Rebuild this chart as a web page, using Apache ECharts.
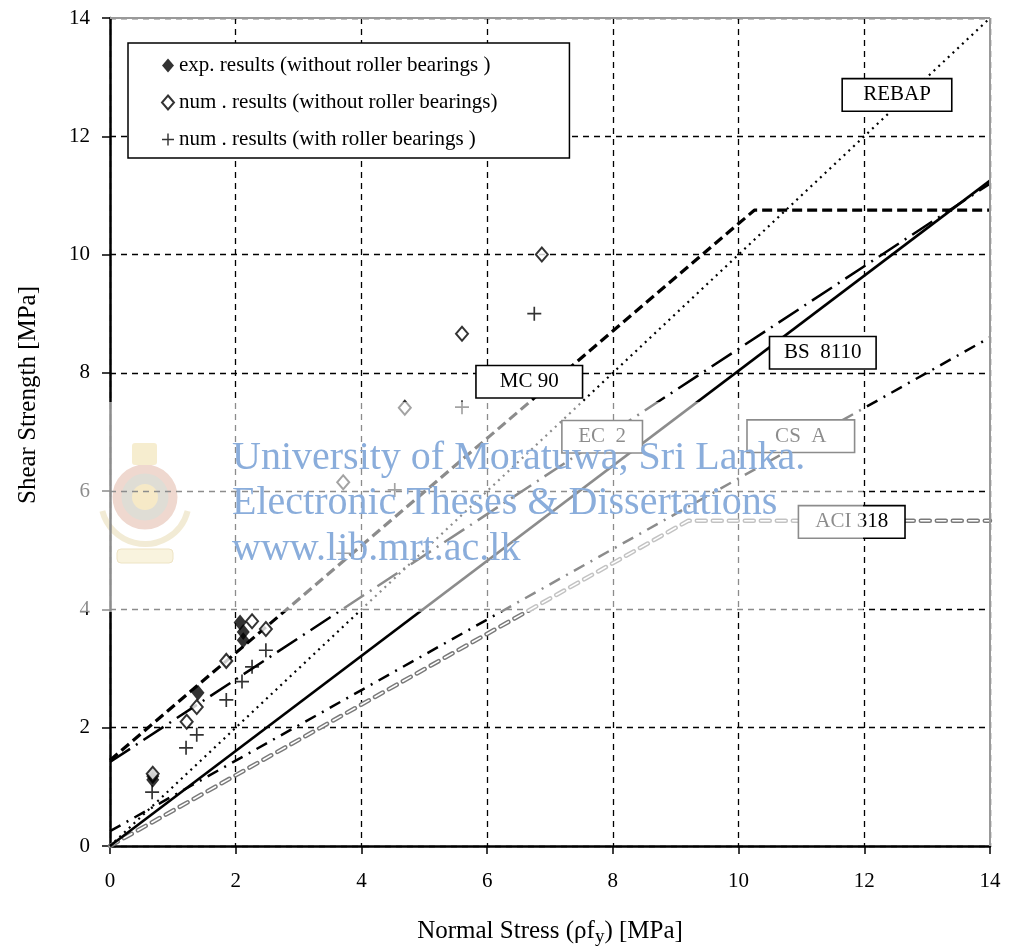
<!DOCTYPE html>
<html><head><meta charset="utf-8">
<script src="https://cdn.jsdelivr.net/npm/echarts@6/dist/echarts.min.js"></script>
<style>html,body{margin:0;padding:0;background:#fff}#c{width:1021px;height:951px}</style>
</head><body><div id="c"></div>
<script>
// ---------- data ----------
const axisTicks = [0, 2, 4, 6, 8, 10, 12, 14];
const legendNames = [
  'exp. results (without roller bearings )',
  'num . results (without roller bearings)',
  'num . results (with roller bearings )'
];
// experimental results (filled diamonds)
const expX = [0.68, 0.68, 1.40, 2.07, 2.12, 2.12];
const expY = [1.18, 1.12, 2.59, 3.78, 3.62, 3.48];
// numerical results without roller bearings (hollow diamonds)
const numWoX = [0.68, 1.22, 1.38, 1.85, 2.26, 2.48, 3.71, 4.69, 5.60, 6.87];
const numWoY = [1.22, 2.10, 2.35, 3.13, 3.80, 3.67, 6.15, 7.41, 8.66, 10.00];
// numerical results with roller bearings (plus)
const numWX = [0.67, 1.21, 1.38, 1.85, 2.10, 2.26, 2.48, 3.71, 4.53, 5.60, 6.75];
const numWY = [0.91, 1.66, 1.88, 2.47, 2.78, 3.03, 3.31, 4.95, 6.02, 7.42, 9.00];
// design code lines
const bsX = [0, 14],            bsY = [0, 11.25];        // BS 8110
const rebapX = [0, 14],         rebapY = [0, 14];        // REBAP
const mc90X = [0, 10.25, 14],   mc90Y = [1.45, 10.75, 10.75]; // MC 90
const ec2X = [0, 14],           ec2Y = [1.42, 11.2];     // EC 2
const csaX = [0, 14],           csaY = [0.25, 8.6];      // CS A
const aciX = [0, 9.2, 14],      aciY = [0, 5.5, 5.5];    // ACI 318
// code label anchors (data units)
const codeNames = ['REBAP', 'MC 90', 'BS  8110', 'EC  2', 'CS  A', 'ACI 318'];
const codeX = [12.52, 6.67, 11.34, 7.83, 10.99, 11.80];
const codeY = [12.70, 7.85, 8.34, 6.92, 6.93, 5.48];
const watermarkLines = ['University of Moratuwa, Sri Lanka.', 'Electronic Theses & Dissertations', 'www.lib.mrt.ac.lk'];

// ---------- chart ----------
const pts = (xs, ys) => xs.map((x, i) => [x, ys[i]]);
const FONT = 'Liberation Serif';
const boxW = [108, 105, 105, 79, 106, 105];
const plusPath = 'path://M4.4,0H5.6V4.4H10V5.6H5.6V10H4.4V5.6H0V4.4H4.4Z';

function lineSeries(name, data, ls, z) {
  return { name, type: 'line', data, symbol: 'none', silent: true, z: z || 3,
    lineStyle: Object.assign({ color: '#000', width: 2.5 }, ls) };
}

const chart = echarts.init(document.getElementById('c'), null, { renderer: 'canvas' });
const axisCommon = {
  type: 'value', min: 0, max: 14, interval: 2,
  axisLine: { show: true, onZero: false, lineStyle: { color: '#000', width: 2.5 } },
  axisTick: { show: true, length: 8, lineStyle: { color: '#000', width: 1.5 } },
  splitLine: { show: true, lineStyle: { color: '#000', width: 1.3, type: [6, 5] } },
  axisLabel: { fontFamily: FONT, fontSize: 21, color: '#000',
    formatter: v => String(axisTicks[axisTicks.indexOf(v)]) }
};

const option = {
  animation: false,
  backgroundColor: '#fff',
  grid: { left: 110, right: 31, top: 18, bottom: 105, containLabel: false, outerBoundsMode: 'none' },
  xAxis: Object.assign({}, axisCommon, {
    axisLabel: Object.assign({}, axisCommon.axisLabel, { margin: 25 }),
    name: '{a|Normal Stress (ρf}{s|y}{a|) [MPa]}',
    nameLocation: 'middle', nameGap: 70,
    nameTextStyle: { rich: {
      a: { fontFamily: FONT, fontSize: 25, color: '#000' },
      s: { fontFamily: FONT, fontSize: 19, color: '#000', padding: [12, 0, 0, 0] }
    } }
  }),
  yAxis: Object.assign({}, axisCommon, {
    axisLabel: Object.assign({}, axisCommon.axisLabel, { margin: 20 })
  }),
  legend: {
    data: legendNames, orient: 'vertical', left: 128, top: 43,
    padding: [12, 72, 8, 33], itemGap: 16, itemWidth: 12, itemHeight: 14,
    borderColor: '#000', borderWidth: 1.5, backgroundColor: '#fff',
    selectedMode: false,
    textStyle: { fontFamily: FONT, fontSize: 21, color: '#000' }
  },
  series: [
    // right/top frame
    { type: 'line', data: [], silent: true, z: 2,
      markLine: { silent: true, symbol: 'none', label: { show: false }, animation: false,
        lineStyle: { color: '#999', width: 2, type: 'solid' },
        data: [{ xAxis: 14 }, { yAxis: 14 }] } },
    lineSeries('ACI 318 outer', pts(aciX, aciY), { color: '#7a7a7a', width: 4.5, type: [9, 7], cap: 'round' }),
    lineSeries('ACI 318 inner', pts(aciX, aciY), { color: '#fff', width: 1.6, type: [9, 7], cap: 'round' }),
    lineSeries('CS A', pts(csaX, csaY), { width: 2.5, type: [12, 7, 2, 7] }),
    lineSeries('EC 2', pts(ec2X, ec2Y), { width: 2.5, type: [24, 7, 2, 7] }),
    lineSeries('REBAP', pts(rebapX, rebapY), { width: 2.2, type: [2, 4.5] }),
    lineSeries('MC 90', pts(mc90X, mc90Y), { width: 3.2, type: [10, 5] }),
    lineSeries('BS 8110', pts(bsX, bsY), { width: 2.6, type: 'solid' }),
    { name: legendNames[0], type: 'scatter', data: pts(expX, expY), z: 6,
      symbol: 'diamond', symbolSize: [13, 16], itemStyle: { color: '#000' } },
    { name: legendNames[1], type: 'scatter', data: pts(numWoX, numWoY), z: 6,
      symbol: 'emptyDiamond', symbolSize: [12, 14], itemStyle: { color: '#000', borderWidth: 1.8 } },
    { name: legendNames[2], type: 'scatter', data: pts(numWX, numWY), z: 6,
      symbol: plusPath, symbolSize: 14, itemStyle: { color: '#000' } },
    // code labels
    { name: 'codes', type: 'scatter', z: 8, silent: true, symbolSize: 0,
      itemStyle: { color: '#000' },
      data: codeNames.map((n, i) => ({ name: n, value: [codeX[i], codeY[i]],
        label: { width: boxW[i] } })),
      label: { show: true, position: 'inside', formatter: '{b}', align: 'center',
        fontFamily: FONT, fontSize: 21, color: '#000', lineHeight: 21,
        textBorderWidth: 0, opacity: 1,
        backgroundColor: '#fff', borderColor: '#000', borderWidth: 1.6, padding: [5, 0, 5, 0] } }
  ],
  graphic: [
    // faint university crest
    { type: 'group', z: 100, children: [
      { type: 'arc', shape: { cx: 145, cy: 500, r: 44, startAngle: 0.25, endAngle: Math.PI - 0.25 }, style: { stroke: '#e3d3a2', lineWidth: 6, fill: null } },
      { type: 'circle', shape: { cx: 145, cy: 497, r: 28 }, style: { fill: '#b9b3a3', stroke: '#dca995', lineWidth: 9 } },
      { type: 'circle', shape: { cx: 145, cy: 497, r: 13 }, style: { fill: '#eacf83' } },
      { type: 'rect', shape: { x: 132, y: 443, width: 25, height: 22, r: 3 }, style: { fill: '#ecd796' } },
      { type: 'rect', shape: { x: 117, y: 549, width: 56, height: 14, r: 4 }, style: { fill: '#f2e5b6', stroke: '#d9c27e', lineWidth: 1 } }
    ] },
    // white wash of the watermark
    { type: 'rect', z: 99, shape: { x: 60, y: 402, width: 803, height: 210 },
      style: { fill: 'rgba(255,255,255,0.55)' }, silent: true },
    // watermark text
    ...watermarkLines.map((t, i) => ({ type: 'text', z: 101, silent: true,
      style: { x: 232, y: 458 + i * 45.5, text: t, font: '40px "Liberation Serif"',
        fill: '#8aaddb', verticalAlign: 'middle', align: 'left' } })),
    // y axis title
    { type: 'text', z: 10, rotation: Math.PI / 2, x: 28, y: 395,
      style: { text: 'Shear Strength [MPa]', font: '25px "Liberation Serif"', fill: '#000',
        align: 'center', verticalAlign: 'middle' } }
  ]
};
chart.setOption(option);
</script>
</body></html>
